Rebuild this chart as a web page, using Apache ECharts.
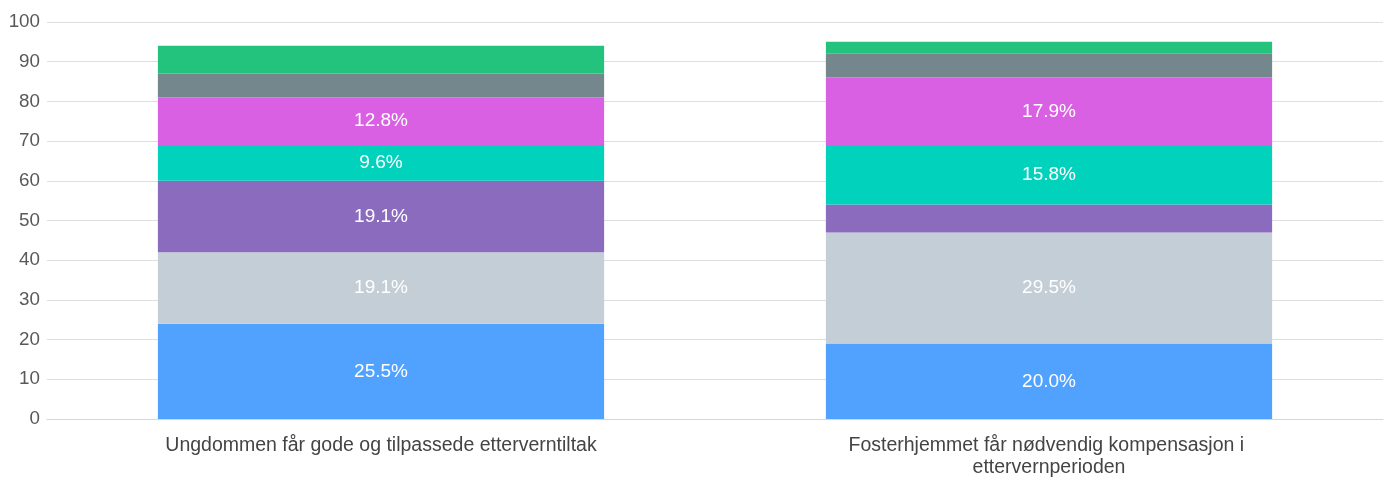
<!DOCTYPE html>
<html>
<head>
<meta charset="utf-8">
<script src="https://cdn.jsdelivr.net/npm/echarts@6/dist/echarts.min.js"></script>
<style>
  html, body { margin: 0; padding: 0; background: #fff; }
  #chart { width: 1394px; height: 479px; }
</style>
</head>
<body>
<div id="chart"></div>
<script>
(function () {
    const categories = [
        'Ungdommen får gode og tilpassede etterverntiltak',
        'Fosterhjemmet får nødvendig kompensasjon i ettervernperioden'
    ];
    const seriesNames = ['Svært enig', 'Enig', 'Litt enig', 'Litt uenig', 'Uenig', 'Svært uenig', 'Vet ikke'];
    const colors = ['#51a2ff', '#c4ced7', '#8b6bbe', '#00d2bc', '#d960e3', '#73878d', '#23c37d'];
    const s1 = [24, 19];
    const s2 = [18, 28];
    const s3 = [18, 7];
    const s4 = [9, 15];
    const s5 = [12, 17];
    const s6 = [6, 6];
    const s7 = [7, 3];
    const yTicks = [0, 10, 20, 30, 40, 50, 60, 70, 80, 90, 100];

    const allValues = [s1, s2, s3, s4, s5, s6, s7];
    const totals = categories.map(function (c, i) {
        return allValues.reduce(function (sum, arr) { return sum + arr[i]; }, 0);
    });

    const font = 'Liberation Sans, Arial, Helvetica, sans-serif';

    const option = {
        animation: false,
        color: colors,
        grid: {
            left: 47,
            right: 11,
            top: 22,
            bottom: 60
        },
        xAxis: {
            type: 'category',
            data: categories,
            axisTick: { show: false },
            axisLine: { show: true, lineStyle: { color: '#d6d6d6' } },
            axisLabel: {
                color: '#444',
                fontSize: 19.5,
                fontFamily: font,
                margin: 16,
                width: 470,
                overflow: 'break',
                lineHeight: 22,
                interval: 0
            }
        },
        yAxis: {
            type: 'value',
            min: yTicks[0],
            max: yTicks[yTicks.length - 1],
            interval: 10,
            axisLine: { show: false },
            axisTick: { show: false },
            splitLine: { lineStyle: { color: '#dedede' } },
            axisLabel: {
                color: '#595959',
                fontSize: 18.8,
                fontFamily: font,
                margin: 7
            }
        },
        series: allValues.map(function (vals, k) {
            return {
                name: seriesNames[k],
                type: 'bar',
                stack: 'total',
                barWidth: '66.8%',
                data: vals,
                label: {
                    show: true,
                    position: 'inside',
                    color: '#fff',
                    fontSize: 19,
                    fontFamily: font,
                    formatter: function (p) {
                        const pct = p.value / totals[p.dataIndex] * 100;
                        return pct < 8 ? '' : pct.toFixed(1) + '%';
                    }
                }
            };
        })
    };

    const myChart = echarts.init(document.getElementById('chart'));
    myChart.setOption(option);
}());
</script>
</body>
</html>
